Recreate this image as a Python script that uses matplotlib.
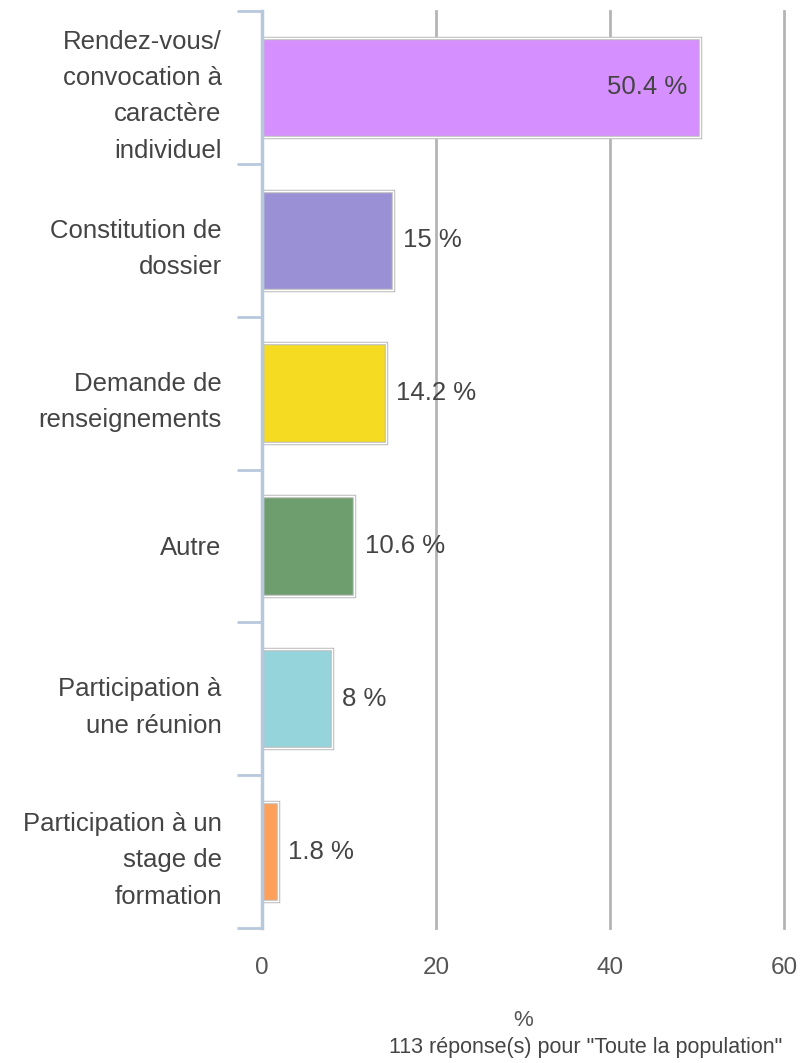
import numpy as np
import matplotlib.pyplot as plt

categories = [
    "Rendez-vous/\nconvocation à\ncaractère\nindividuel",
    "Constitution de\ndossier",
    "Demande de\nrenseignements",
    "Autre",
    "Participation à\nune réunion",
    "Participation à un\nstage de\nformation",
]
values = [50.4, 15, 14.2, 10.6, 8, 1.8]
value_labels = ["50.4 %", "15 %", "14.2 %", "10.6 %", "8 %", "1.8 %"]
colors = ["#d68fff", "#9a90d6", "#f5dc22", "#6e9e6e", "#96d4dc", "#ffa05a"]
xticks = [0, 20, 40, 60]
note = '113 réponse(s) pour "Toute la population"'

plt.rcParams['font.family'] = ['Liberation Sans', 'DejaVu Sans']

fig = plt.figure(figsize=(8.02, 10.63), dpi=100)
ax = fig.add_axes([262 / 802, 1 - 928 / 1063, (784 - 262) / 802, (928 - 11) / 1063])

y = np.arange(len(categories))
ax.barh(y, values, height=0.65, color=colors, edgecolor="#bdbdbd", linewidth=2.5, zorder=3)
ax.barh(y, values, height=0.65, color="none", edgecolor="white", linewidth=1.0, zorder=4)

for yi, v, lab in zip(y, values, value_labels):
    if v > 40:
        ax.text(v - 1.5, yi, lab, ha="right", va="center", fontsize=18.5, color="#444444", zorder=5)
    else:
        ax.text(v + 1.2, yi, lab, ha="left", va="center", fontsize=18.5, color="#444444", zorder=5)

ax.set_xlim(0, 60)
ax.set_ylim(len(categories) - 0.5, -0.5)
ax.set_xticks(xticks)
ax.set_xticklabels([str(t) for t in xticks], fontsize=17.5, color="#555555")
ax.tick_params(axis="x", length=0, pad=21)

ax.set_yticks(y)
ax.set_yticklabels(categories, fontsize=18.5, color="#444444", linespacing=1.65)
ax.tick_params(axis="y", which="major", length=0, pad=29)
ax.set_yticks(np.arange(len(categories) + 1) - 0.5, minor=True)
ax.tick_params(axis="y", which="minor", length=18, width=2, color="#b8c8dc")

for s in ["top", "right", "bottom"]:
    ax.spines[s].set_visible(False)
ax.spines["left"].set_color("#b8c8dc")
ax.spines["left"].set_linewidth(2.5)
ax.spines["left"].set_zorder(6)

for t in xticks[1:]:
    ax.axvline(t, color="#b4b4b4", linewidth=2, zorder=1, clip_on=False)

fig.text(523 / 802, 1 - 1021 / 1063, "%", ha="center", va="center", fontsize=16, color="#555555")
fig.text(782 / 802, 1 - 1048 / 1063, note, ha="right", va="center", fontsize=15.5, color="#444444")

fig.savefig("out.png", dpi=100)
